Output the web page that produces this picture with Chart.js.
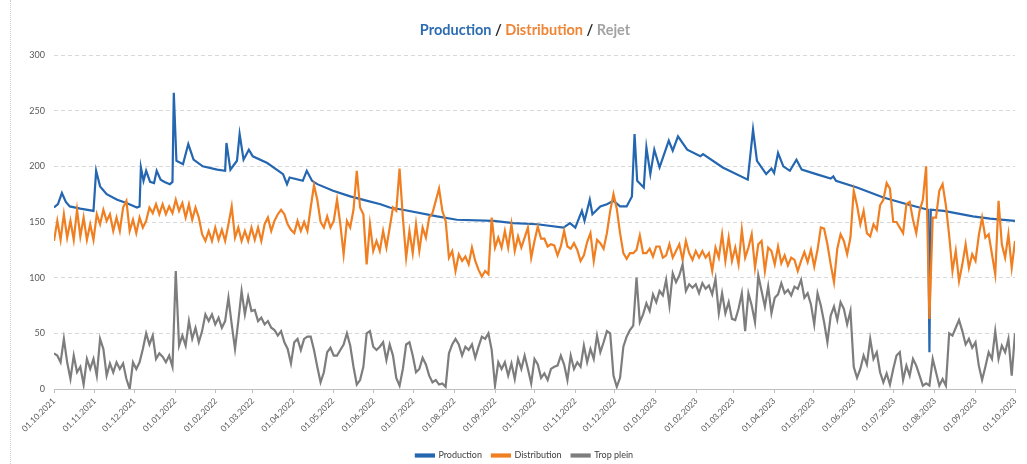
<!DOCTYPE html>
<html>
<head>
<meta charset="utf-8">
<script src="https://cdn.jsdelivr.net/npm/chart.js@4.4.0/dist/chart.umd.min.js"></script>
<style>
  body { margin: 0; background: #fff; }
  #wrap { position: relative; width: 1027px; height: 464px; }
  #title { position: absolute; top: 21px; left: 0; width: 1050px; text-align: center;
           font: bold 14.5px Lato, "Liberation Sans", sans-serif; color: #262626; }
  #frame { position: absolute; left: 10px; top: 0; height: 464px; border-left: 1px dotted #cfcfcf; }
</style>
</head>
<body>
<div id="wrap">
  <canvas id="chart" width="1027" height="464"></canvas>
  <div id="frame"></div>
  <div id="title"><span style="color:#2d6cb2">Production</span> / <span style="color:#ef8536">Distribution</span> / <span style="color:#a3a3a3">Rejet</span></div>
</div>
<script>
// x axis: days counted from 01.10.2021
const monthDays = [0, 31, 61, 92, 123, 151, 182, 212, 243, 273, 304, 335, 365, 396, 426, 457, 488, 516, 547, 577, 608, 638, 669, 700, 730];
const monthLabels = ['01.10.2021', '01.11.2021', '01.12.2021', '01.01.2022', '01.02.2022', '01.03.2022', '01.04.2022',
    '01.05.2022', '01.06.2022', '01.07.2022', '01.08.2022', '01.09.2022', '01.10.2022', '01.11.2022', '01.12.2022',
    '01.01.2023', '01.02.2023', '01.03.2023', '01.04.2023', '01.05.2023', '01.06.2023', '01.07.2023', '01.08.2023',
    '01.09.2023', '01.10.2023'];

// production: read at the turning points of the curve
const productionDays = [0, 3, 6, 9, 12, 20, 30, 32, 35, 40, 48, 55, 63, 65, 66, 68, 70, 73, 76, 78,
    81, 84, 88, 90, 91, 93, 98, 102, 106, 113, 124, 130, 131, 134, 139, 141, 144, 148, 151, 162,
    174, 177, 179, 189, 192, 196, 200, 212, 225, 238, 248, 255, 265, 291, 306, 334, 349, 367, 387, 392,
    396, 401, 403, 407, 409, 415, 420, 425, 430, 435, 439, 441, 443, 448, 450, 453, 456, 460, 467, 470,
    474, 481, 491, 493, 508, 527, 531, 534, 541, 545, 547, 550, 554, 559, 564, 568, 579, 590, 592, 594,
    610, 630, 648, 664, 665, 666, 676, 698, 711, 730];
const productionValues = [163, 166, 176, 168, 164, 162, 160, 196, 182, 175, 170, 167, 163, 164, 199, 187, 196, 186, 185, 196,
    188, 186, 184, 186, 266, 205, 202, 220, 206, 200, 197, 196, 221, 197, 205, 229, 206, 215, 209, 203,
    193, 184, 190, 187, 196, 187, 184, 178, 173, 169, 166, 163, 161, 155, 152, 151, 149, 148, 145, 149,
    145, 160, 151, 170, 157, 164, 166, 169, 164, 164, 173, 229, 187, 181, 217, 193, 215, 199, 223, 214,
    227, 215, 209, 211, 199, 188, 233, 205, 193, 198, 194, 212, 200, 196, 206, 197, 193, 189, 191, 187,
    181, 172, 166, 161, 33, 161, 160, 155, 153, 151];

// distribution and trop plein: one reading every 2.5 days
const stepDays = 2.5;
const distribution = [
    133, 151, 134, 157, 136, 151, 134, 161, 137, 154, 134, 148, 134, 157, 148, 161, 151, 157, 142, 154,
    142, 163, 169, 142, 152, 140, 154, 145, 151, 163, 158, 166, 157, 166, 157, 164, 158, 170, 160, 167,
    154, 166, 152, 163, 154, 139, 133, 142, 133, 145, 134, 143, 133, 148, 164, 136, 145, 133, 142, 133,
    145, 134, 145, 133, 148, 154, 142, 151, 157, 161, 157, 148, 143, 140, 151,
    142, 150, 142, 163, 183, 170, 150, 145, 155, 145, 151, 170, 148, 121, 151, 145, 161, 196, 163, 157,
    112, 148, 124, 133, 124, 142, 127, 145, 163, 160, 198, 154, 118, 142, 122, 148, 124, 145, 136, 154,
    158, 169, 180, 160, 151, 118, 124, 106, 121, 115, 119, 112, 127, 115, 107, 101, 106, 103, 154, 127,
    136, 127, 142, 127, 148, 124, 137, 127, 136, 145, 118, 133,
    146, 135, 135, 128, 130, 129, 120, 128, 142, 128, 126, 131, 125, 115, 120, 132, 140, 115, 134, 131,
    126, 140, 160, 175, 162, 140, 122, 117, 122, 122, 125, 138, 122, 122, 126, 119, 128, 128, 118, 120,
    130, 118, 124, 130, 116, 133, 122, 116, 124, 118, 124, 118, 122, 106, 127, 118, 139, 115, 136, 115,
    127, 112, 143, 118, 127, 139, 109, 130, 133, 106, 127, 124, 112,
    128, 113, 120, 111, 118, 116, 106, 115, 123, 114, 125, 110, 125, 145, 144, 130, 112, 96, 126, 139,
    133, 121, 136, 178, 165, 148, 160, 140, 137, 148, 143, 165, 170, 185, 180, 150, 150, 145, 140, 166,
    168, 152, 140, 160, 170, 200, 63, 154, 154, 178, 184, 165, 138, 106, 124, 97, 112, 130, 109, 121,
    115, 138, 154, 136, 139, 121, 103, 169, 130, 118, 139, 109, 133];
const tropPlein = [
    32, 30, 24, 45, 24, 9, 30, 15, 20, 4, 27, 18, 27, 12, 45, 36, 12, 23, 15, 24,
    18, 23, 9, 0, 24, 18, 24, 36, 50, 40, 48, 27, 32, 29, 24, 30, 20, 106, 39, 48,
    39, 61, 45, 55, 42, 52, 67, 61, 67, 58, 64, 55, 61, 82, 58, 36, 61, 88, 67, 83,
    70, 71, 61, 64, 58, 61, 55, 53, 48, 52, 42, 36, 23, 42, 45,
    35, 45, 47, 47, 35, 20, 6, 15, 33, 37, 30, 30, 35, 40, 50, 39, 20, 4, 8, 20,
    50, 52, 38, 35, 38, 42, 26, 40, 30, 10, 3, 18, 40, 42, 30, 15, 18, 28, 22, 12,
    6, 8, 4, 5, 2, 32, 40, 45, 40, 30, 38, 35, 40, 28, 38, 47, 45, 50, 35, 3,
    24, 18, 24, 12, 23, 9, 27, 18, 30, 18, 5, 27,
    22, 10, 14, 8, 18, 20, 21, 30, 22, 8, 30, 18, 24, 20, 39, 24, 36, 27, 48, 33,
    42, 52, 50, 12, 2, 10, 38, 47, 53, 57, 100, 60, 67, 77, 70, 85, 78, 88, 84, 98,
    75, 104, 96, 102, 112, 88, 94, 91, 94, 86, 95, 90, 93, 85, 99, 68, 86, 68, 78, 63,
    62, 72, 86, 52, 86, 75, 60, 102, 88, 74, 92, 68, 82,
    85, 95, 86, 89, 84, 92, 90, 98, 82, 86, 76, 58, 86, 75, 60, 42, 66, 74, 62, 78,
    72, 58, 70, 20, 10, 18, 30, 22, 45, 27, 33, 15, 6, 14, 4, 18, 30, 33, 8, 21,
    12, 27, 21, 12, 3, 5, 3, 27, 15, 3, 9, 3, 50, 48, 55, 62, 52, 40, 45, 37,
    42, 21, 8, 20, 33, 27, 52, 27, 39, 33, 45, 12, 50];

const yTicks = [0, 50, 100, 150, 200, 250, 300];

Chart.defaults.font.family = 'Lato, "Liberation Sans", sans-serif';

function toPoints(values) {
    return values.map((v, i) => ({ x: i * stepDays, y: v }));
}

// legend sits a bit right of the canvas centre in the original
const legendShift = {
    id: 'legendShift',
    afterLayout(chart) {
        chart.legend.left += 12;
        chart.legend.right += 12;
    }
};

new Chart(document.getElementById('chart'), {
    type: 'line',
    data: {
        datasets: [{
            label: 'Production',
            data: productionDays.map((d, i) => ({ x: d, y: productionValues[i] })),
            borderColor: '#2466b0',
            backgroundColor: '#2466b0',
            order: 3
        }, {
            label: 'Distribution',
            data: toPoints(distribution),
            borderColor: '#f07f22',
            backgroundColor: '#f07f22',
            order: 2
        }, {
            label: 'Trop plein',
            data: toPoints(tropPlein),
            borderColor: '#7d7d7d',
            backgroundColor: '#7d7d7d',
            order: 1
        }]
    },
    plugins: [legendShift],
    options: {
        responsive: false,
        animation: false,
        devicePixelRatio: 1,
        elements: {
            line: { borderWidth: 2.2, tension: 0 },
            point: { radius: 0 }
        },
        layout: { padding: { left: 10, right: 12, top: 55, bottom: -6 } },
        scales: {
            x: {
                type: 'linear',
                min: 0,
                max: 730,
                afterBuildTicks: scale => { scale.ticks = monthDays.map(v => ({ value: v })); },
                afterFit: scale => { scale.height = 52; },
                ticks: {
                    autoSkip: false,
                    minRotation: 45,
                    maxRotation: 45,
                    color: '#595959',
                    font: { size: 8.5 },
                    callback: (value, index) => monthLabels[index]
                },
                grid: { drawOnChartArea: false, tickLength: 4, color: '#bfbfbf' },
                border: { color: '#bfbfbf' }
            },
            y: {
                min: 0,
                max: 300,
                afterBuildTicks: scale => { scale.ticks = yTicks.map(v => ({ value: v })); },
                afterFit: scale => { scale.width = 44; },
                ticks: { color: '#595959', font: { size: 9 }, padding: 9 },
                grid: { color: '#d9d9d9', drawTicks: false },
                border: { display: false, dash: [4, 3] }
            }
        },
        plugins: {
            legend: {
                position: 'bottom',
                labels: {
                    boxWidth: 18,
                    boxHeight: 2,
                    padding: 10,
                    color: '#404040',
                    font: { size: 9 },
                    sort: (a, b) => a.datasetIndex - b.datasetIndex
                }
            },
            tooltip: { enabled: false }
        }
    }
});
</script>
</body>
</html>
